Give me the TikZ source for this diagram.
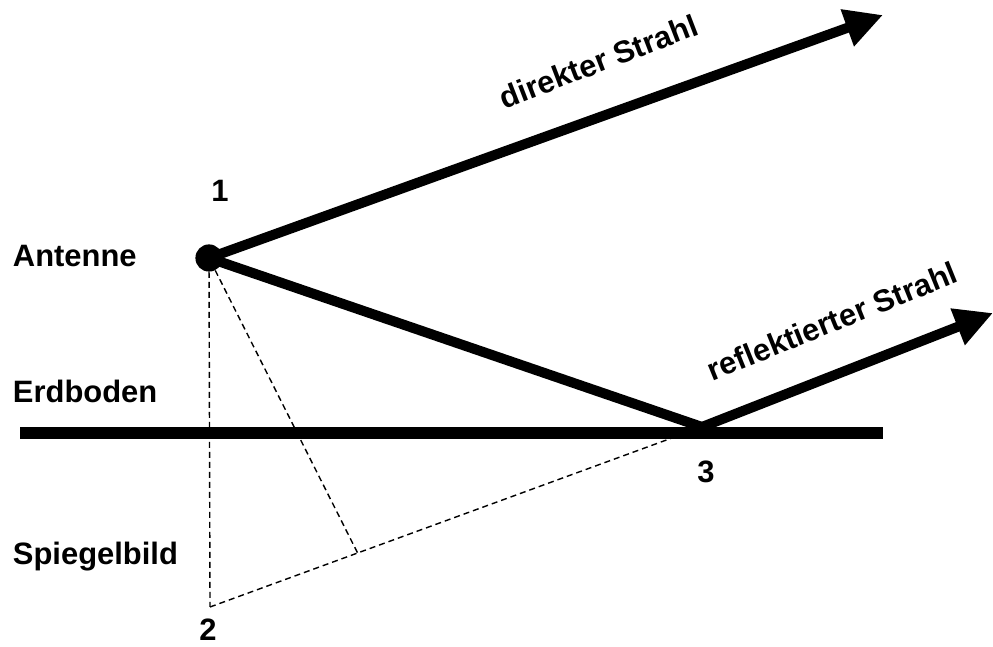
\documentclass[tikz,border=0pt]{standalone}
\usepackage{fontspec}
\setmainfont{Liberation Sans}
\usetikzlibrary{arrows.meta,calc}

\begin{document}
\begin{tikzpicture}[
  every node/.style={font=\bfseries\fontsize{22}{26}\selectfont},
  ray/.style={line width=0.25cm, -{Triangle[length=0.95cm, width=0.92cm]}},
  beam/.style={line width=0.25cm},
  ground/.style={line width=0.3cm},
  aux/.style={line width=1pt, dash pattern=on 0.15cm off 0.1cm},
  dot/.style={circle, fill=black, inner sep=0pt, minimum size=0.68cm},
]
\useasboundingbox (0,0) rectangle (24.825,16.175);

% ------------------------------------------------------------- points --
\node[dot] (ant) at (5.225,9.725) {};
\coordinate (direct)  at (22.075,15.8);
\coordinate (refl)    at (17.55,5.5);
\coordinate (out)     at (24.825,8.35);
\coordinate (mirror)  at (5.25,1.0);
\coordinate (foot)    at ($(mirror)!0.3!(refl)$);
\coordinate (gleft)   at (0.5,5.35);
\coordinate (gright)  at (22.075,5.35);

% ------------------------------------------------------------- labels --
\node[anchor=base west] (lant)  at (0.2,9.5)  {Antenne};
\node[anchor=base west] (lerd)  at (0.2,6.1)  {Erdboden};
\node[anchor=base west] (lspg)  at (0.2,2.05) {Spiegelbild};
\node[anchor=base] (n1) at (5.5,11.125) {1};
\node[anchor=base] (n2) at (5.2,0.15)   {2};
\node[anchor=base] (n3) at (17.65,4.1)  {3};
\node[anchor=base west, rotate=21] (ldir) at (12.5,13.4) {direkter Strahl};
\node[anchor=base west, rotate=22] (lref) at (17.7,6.6) {reflektierter Strahl};

% ------------------------------------------------------ construction --
\draw[aux] (ant) -- (mirror);
\draw[aux] (mirror) -- (refl);
\draw[aux] (ant) -- (foot);

% --------------------------------------------------------------- rays --
\draw[ground] (gleft) -- (gright);
\draw[ray] (ant.center) -- (direct);
\draw[beam] (ant.center) -- (refl);
\draw[ray] (refl) -- (out);

\end{tikzpicture}
\end{document}
